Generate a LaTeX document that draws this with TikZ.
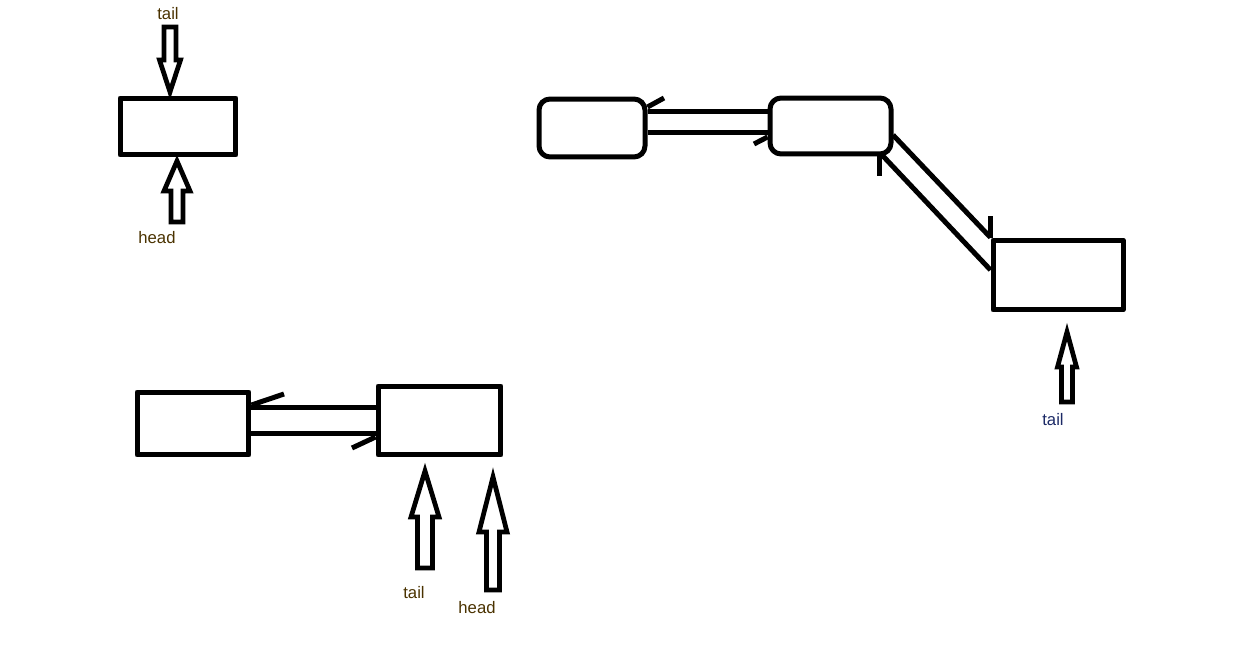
\documentclass[tikz,border=0pt]{standalone}
\usepackage{fontspec}
\setmainfont{Liberation Sans}
\begin{document}
\begin{tikzpicture}[x=0.02cm,y=-0.02cm,line join=round,
  thick line/.style={line width=0.1cm},
  box/.style={draw,line width=0.1cm,rectangle,inner sep=0pt},
  rbox/.style={box,rounded corners=0.22cm},
  lbl/.style={font=\fontsize{9.5}{10}\selectfont,text=lblc},
  hollow/.style={draw,line width=0.095cm,fill=white,line join=miter}]
\definecolor{lblc}{HTML}{4A3200}
\definecolor{lblb}{HTML}{1C2A66}
\useasboundingbox (0,0) rectangle (1256,648);
\newcommand\harrow[6]{\draw[hollow] (#1,#2) -- (#1-#4,#3) -- (#1-#5,#3) -- (#1-#5,#6) -- (#1+#5,#6) -- (#1+#5,#3) -- (#1+#4,#3) -- cycle;}

% top-left
\node[box,minimum width=2.32cm,minimum height=1.14cm] (A) at (178,126.5) {};
\harrow{170}{92}{60}{10.5}{6}{27}
\harrow{177}{161}{191}{13}{6}{222}
\node[lbl] (Atail) at (168,14) {tail};
\node[lbl] (Ahead) at (157,238) {head};

% top-right
\node[rbox,minimum width=2.12cm,minimum height=1.16cm] (B1) at (592,128) {};
\node[rbox,minimum width=2.42cm,minimum height=1.12cm] (B2) at (830.5,126) {};
\node[box,minimum width=2.6cm,minimum height=1.4cm] (C) at (1058,275) {};
\draw[thick line] (B1.east |- 0,112) -- (B2.west |- 0,112);
\draw[thick line] (B1.east |- 0,133) -- (B2.west |- 0,133);
\draw[thick line] (B1.east |- 0,107) -- (664,98);
\draw[thick line] (B2.west |- 0,137) -- (754,144);
\draw[thick line] (893,135) -- (C.north west);
\draw[thick line] (882,155) -- (C.west |- 0,270);
\draw[thick line] (879,156) -- (879,176);
\draw[thick line] (C.north west) -- ++(0,-22);
\harrow{1067}{332}{367}{9.5}{5.5}{402}
\node[lbl,text=lblb] (Ctail) at (1053,420) {tail};

% bottom-left
\node[box,minimum width=2.24cm,minimum height=1.26cm] (D1) at (193,423.5) {};
\node[box,minimum width=2.46cm,minimum height=1.38cm] (D2) at (439.5,420.5) {};
\draw[thick line] (D1.east |- 0,407) -- (D2.west |- 0,407);
\draw[thick line] (D1.east |- 0,433) -- (D2.west |- 0,433);
\draw[thick line] (D1.east |- 0,405) -- (284,394);
\draw[thick line] (D2.west |- 0,437) -- (352,448);
\harrow{425}{471}{517}{14}{7.5}{568}
\harrow{493}{477}{532}{14}{6.5}{590}
\node[lbl] (Dtail) at (414,593) {tail};
\node[lbl] (Dhead) at (477,608) {head};
\end{tikzpicture}
\end{document}
